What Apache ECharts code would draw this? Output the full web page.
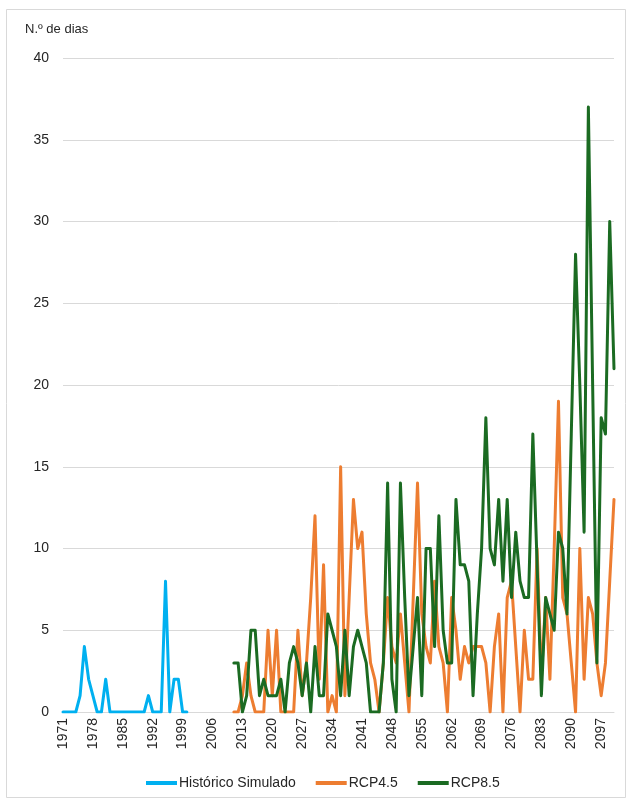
<!DOCTYPE html>
<html>
<head>
<meta charset="utf-8">
<script src="https://cdn.jsdelivr.net/npm/echarts@6/dist/echarts.min.js"></script>
<style>
html,body{margin:0;padding:0;background:#fff;}
#chart{width:630px;height:804px;}
</style>
</head>
<body>
<div id="chart"></div>
<script>
// Categories (years)
var years = ['1971','1972','1973','1974','1975','1976','1977','1978','1979','1980',
'1981','1982','1983','1984','1985','1986','1987','1988','1989','1990',
'1991','1992','1993','1994','1995','1996','1997','1998','1999','2000',
'2001','2002','2003','2004','2005','2006','2007','2008','2009','2010',
'2011','2012','2013','2014','2015','2016','2017','2018','2019','2020',
'2021','2022','2023','2024','2025','2026','2027','2028','2029','2030',
'2031','2032','2033','2034','2035','2036','2037','2038','2039','2040',
'2041','2042','2043','2044','2045','2046','2047','2048','2049','2050',
'2051','2052','2053','2054','2055','2056','2057','2058','2059','2060',
'2061','2062','2063','2064','2065','2066','2067','2068','2069','2070',
'2071','2072','2073','2074','2075','2076','2077','2078','2079','2080',
'2081','2082','2083','2084','2085','2086','2087','2088','2089','2090',
'2091','2092','2093','2094','2095','2096','2097','2098','2099','2100'];

// Histórico Simulado: 1971-2000
var histStart = '1971';
var hist = [0,0,0,0,1,4,2,1,0,0, 2,0,0,0,0,0,0,0,0,0, 1,0,0,0,8,0,2,2,0,0];

// RCP4.5 and RCP8.5: 2011-2100
var rcpStart = '2011';
var rcp45 = [0,0,1,3,1,0,0,0,5,1, 5,0,0,0,0,5,1,3,7,12, 2,9,0,1,0,15,1,7,13,10,
             11,6,3,2,0,3,7,4,3,6, 3,0,7,14,6,4,3,8,4,3, 0,7,5,2,4,3,4,4,4,3,
             0,4,6,0,7,8,4,0,5,2, 2,10,2,7,2,10,19,7,6,3, 0,10,2,7,6,3,1,3,8,13];
var rcp85 = [3,3,0,1,5,5,1,2,1,1, 1,2,0,3,4,3,1,3,0,4, 1,1,6,5,4,1,5,1,4,5,
             4,3,0,0,0,3,14,2,0,14, 7,1,4,7,1,10,10,4,12,5, 3,3,13,9,9,8,1,6,10,18,
             10,9,13,8,13,7,11,8,7,7, 17,9,1,7,6,5,11,10,6,17, 28,20,11,37,20,3,18,17,30,21];

var yTicks = {min:0, max:40, interval:5};

function pad(startYear, vals){
  var off = years.indexOf(startYear);
  var out = [];
  for (var i = 0; i < years.length; i++) {
    var k = i - off;
    out.push(k >= 0 && k < vals.length ? vals[k] : null);
  }
  return out;
}

var font = '"Liberation Sans", Arial, sans-serif';
var chart = echarts.init(document.getElementById('chart'), null, {renderer:'canvas'});
chart.setOption({
  animation:false,
  backgroundColor:'#fff',
  textStyle:{fontFamily:font},
  graphic:[
    {type:'rect', shape:{x:6.5, y:9.5, width:619, height:788}, style:{fill:null, stroke:'#d9d9d9', lineWidth:1}, silent:true},
    {type:'text', left:25, top:23, style:{text:'N.º de dias', font:'13px ' + font, fill:'#262626'}}
  ],
  grid:{left:63, right:16, top:58, bottom:92},
  legend:{
    left:146, top:776, padding:0, icon:'rect', itemWidth:31, itemHeight:4, itemGap:20,
    textStyle:{fontSize:14, color:'#262626', fontFamily:font, padding:[0,0,0,-3]},
    data:['Histórico Simulado','RCP4.5','RCP8.5']
  },
  xAxis:{
    type:'category', data:years, boundaryGap:false,
    axisLine:{lineStyle:{color:'#d9d9d9', width:1}},
    axisTick:{show:false},
    axisLabel:{interval:6, rotate:90, fontSize:14, color:'#262626', margin:6, fontFamily:font},
    splitLine:{show:false}
  },
  yAxis:{
    type:'value', min:yTicks.min, max:yTicks.max, interval:yTicks.interval,
    axisLine:{show:false}, axisTick:{show:false},
    axisLabel:{fontSize:14, color:'#262626', margin:14, fontFamily:font},
    splitLine:{lineStyle:{color:'#d9d9d9', width:1}}
  },
  series:[
    {name:'Histórico Simulado', type:'line', data:pad(histStart, hist), symbol:'none', connectNulls:false,
     lineStyle:{color:'#00B0F0', width:3, join:'round', cap:'round'}, itemStyle:{color:'#00B0F0'}},
    {name:'RCP4.5', type:'line', data:pad(rcpStart, rcp45), symbol:'none',
     lineStyle:{color:'#ED7D31', width:3, join:'round', cap:'round'}, itemStyle:{color:'#ED7D31'}},
    {name:'RCP8.5', type:'line', data:pad(rcpStart, rcp85), symbol:'none',
     lineStyle:{color:'#1B6B22', width:3, join:'round', cap:'round'}, itemStyle:{color:'#1B6B22'}}
  ]
});
</script>
</body>
</html>
